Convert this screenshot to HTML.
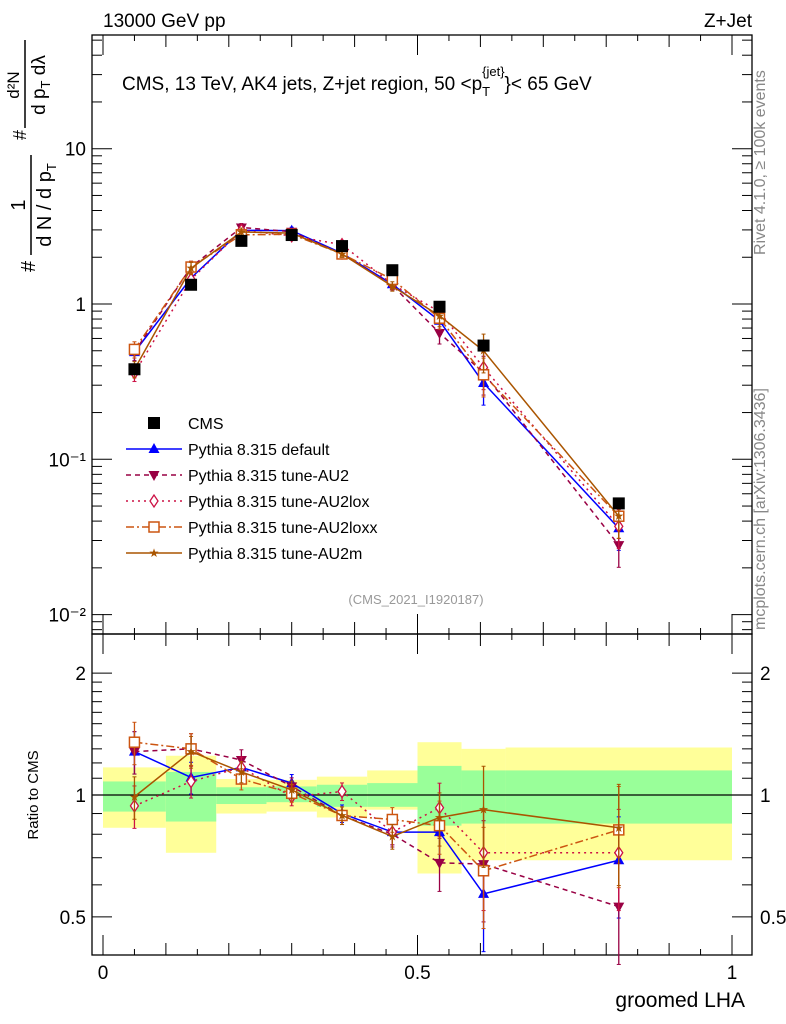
<!DOCTYPE html>
<html><head><meta charset="utf-8"><style>
body{margin:0;background:#fff}
svg{display:block;font-family:"Liberation Sans",sans-serif}
</style></head><body>
<svg id="c" width="786" height="1024" viewBox="0 0 786 1024">
<text x="103" y="27" font-size="19">13000 GeV pp</text>
<text x="752" y="27" font-size="19" text-anchor="end">Z+Jet</text>
<text x="122" y="90" font-size="19">CMS, 13 TeV, AK4 jets, Z+jet region, 50 &lt;p<tspan font-size="13" dy="6">T</tspan><tspan font-size="13" dx="-8" dy="-20">{jet}</tspan><tspan dy="14">}&lt; 65 GeV</tspan></text>
<text transform="translate(765,255) rotate(-90)" font-size="16" fill="#888">Rivet 4.1.0, ≥ 100k events</text>
<text transform="translate(765,630) rotate(-90)" font-size="16" fill="#888">mcplots.cern.ch [arXiv:1306.3436]</text>
<text x="416" y="604" font-size="13" fill="#999" text-anchor="middle">(CMS_2021_I1920187)</text>
<g transform="rotate(-90)" font-size="20">
 <text x="-272" y="35">#</text>
 <text x="-205" y="25" text-anchor="middle">1</text>
 <line x1="-255" x2="-155" y1="31" y2="31" stroke="#000" stroke-width="1.5"/>
 <text x="-205" y="51" text-anchor="middle">d N / d p<tspan font-size="13" dy="5">T</tspan></text>
 <text x="-140" y="26" font-size="18">#</text>
 <text x="-85" y="19" text-anchor="middle" font-size="17">d²N</text>
 <line x1="-128" x2="-40" y1="25" y2="25" stroke="#000" stroke-width="1.5"/>
 <text x="-85" y="45" text-anchor="middle" font-size="19">d p<tspan font-size="13" dy="5">T</tspan><tspan dy="-5"> dλ</tspan></text>
</g>
<text transform="translate(38,795) rotate(-90)" font-size="15" text-anchor="middle">Ratio to CMS</text>
<text x="745" y="1007" font-size="21" text-anchor="end">groomed LHA</text>
<g id="g"></g>
</svg>
<script>
const xVals=[0.05,0.14,0.22,0.30,0.38,0.46,0.535,0.605,0.82];
const binEdges=[0,0.1,0.18,0.26,0.34,0.42,0.5,0.57,0.64,1.0];
const cmsVals=[0.38,1.33,2.55,2.78,2.36,1.65,0.96,0.54,0.052];
const defaultVals=[0.49,1.47,2.98,2.97,2.12,1.34,0.78,0.31,0.036];
const au2Vals=[0.49,1.73,3.11,2.92,2.10,1.32,0.65,0.36,0.028];
const au2loxVals=[0.36,1.44,2.98,2.75,2.41,1.34,0.89,0.39,0.037];
const au2loxxVals=[0.51,1.73,2.79,2.81,2.10,1.44,0.81,0.35,0.043];
const au2mVals=[0.38,1.70,2.91,2.86,2.10,1.30,0.84,0.50,0.043];
const defaultRatio=[1.28,1.105,1.17,1.07,0.90,0.81,0.81,0.57,0.69];
const au2Ratio=[1.28,1.30,1.22,1.05,0.89,0.80,0.68,0.675,0.53];
const au2loxRatio=[0.94,1.08,1.17,0.99,1.02,0.81,0.93,0.72,0.72];
const au2loxxRatio=[1.35,1.30,1.095,1.01,0.89,0.87,0.84,0.65,0.82];
const au2mRatio=[0.99,1.28,1.14,1.03,0.89,0.79,0.88,0.92,0.83];
const relErr=[0.12,0.09,0.06,0.05,0.05,0.07,0.15,0.28,0.28];
const yellowHi=[1.17,1.25,1.095,1.09,1.11,1.15,1.35,1.30,1.31];
const yellowLo=[0.83,0.72,0.90,0.91,0.88,0.92,0.64,0.69,0.69];
const greenHi=[1.08,1.14,1.045,1.05,1.06,1.07,1.18,1.15,1.15];
const greenLo=[0.91,0.86,0.95,0.96,0.935,0.935,0.84,0.85,0.85];
const xTicks=[0,0.5,1];
const xTickLabels=["0","0.5","1"];
const mainTicks=[0.01,0.1,1,10];
const mainTickLabels=["10⁻²","10⁻¹","1","10"];
const ratioTicks=[0.5,1,2];
const ratioTickLabels=["0.5","1","2"];

const NS="http://www.w3.org/2000/svg";
const G=document.getElementById('g');
const L=92,R=752,T=35,MB=634,RB=955;
const X=v=>103+v*629;
const Y=v=>304-Math.log10(v)*155.3;
const YR=v=>795-Math.log10(v)*405;
function el(t,a,p){const e=document.createElementNS(NS,t);for(const k in a)e.setAttribute(k,a[k]);(p||G).appendChild(e);return e;}

for(let i=0;i<xVals.length;i++){
  const r1=el('rect',{x:X(binEdges[i]),y:YR(yellowHi[i]),width:X(binEdges[i+1])-X(binEdges[i]),height:YR(yellowLo[i])-YR(yellowHi[i]),fill:'#ffff99'});
  
  
  const r2=el('rect',{x:X(binEdges[i]),y:YR(greenHi[i]),width:X(binEdges[i+1])-X(binEdges[i]),height:YR(greenLo[i])-YR(greenHi[i]),fill:'#99ff99'});
  
  
}
el('line',{x1:L,x2:R,y1:YR(1),y2:YR(1),stroke:'#000','stroke-width':1.3});

const f1=el('rect',{x:L,y:T,width:R-L,height:MB-T,fill:'none',stroke:'#000','stroke-width':1.3});


const f2=el('rect',{x:L,y:MB,width:R-L,height:RB-MB,fill:'none',stroke:'#000','stroke-width':1.3});



for(let d=-3;d<=1;d++){for(let m=1;m<10;m++){const v=m*Math.pow(10,d);const y=Y(v);if(y<T||y>MB)continue;const len=m==1?20:10;
 el('line',{x1:L,x2:L+len,y1:y,y2:y,stroke:'#000'});el('line',{x1:R,x2:R-len,y1:y,y2:y,stroke:'#000'});}}
mainTicks.forEach((v,i)=>{const t=el('text',{x:L-6,y:Y(v)+7,'font-size':19,'text-anchor':'end'});t.textContent=mainTickLabels[i];
 
 });
for(let v=0.4;v<=2.5;v+=(v<1?0.1:(v<2?0.1:0.5))){const y=YR(v);if(y<MB||y>RB)continue;const maj=ratioTicks.some(t=>Math.abs(t-v)<1e-6);const len=maj?20:10;
 el('line',{x1:L,x2:L+len,y1:y,y2:y,stroke:'#000'});el('line',{x1:R,x2:R-len,y1:y,y2:y,stroke:'#000'});}
ratioTicks.forEach((v,i)=>{[[L-6,'end'],[R+8,'start']].forEach(([x,a])=>{const t=el('text',{x:x,y:YR(v)+7,'font-size':19,'text-anchor':a});t.textContent=ratioTickLabels[i];
 
 });});
for(let k=0;k<=20;k++){const v=k*0.05;const x=X(v);const len=k%10==0?20:(k%2==0?12:6);
 el('line',{x1:x,x2:x,y1:RB,y2:RB-len,stroke:'#000'});el('line',{x1:x,x2:x,y1:MB,y2:MB+len,stroke:'#000'});
 el('line',{x1:x,x2:x,y1:MB,y2:MB-len,stroke:'#000'});el('line',{x1:x,x2:x,y1:T,y2:T+len,stroke:'#000'});}
xTicks.forEach((v,i)=>{const t=el('text',{x:X(v),y:979,'font-size':19,'text-anchor':'middle'});t.textContent=xTickLabels[i];
 
 });

function marker(kind,x,y,c,p){
 if(kind=='sq')return el('rect',{x:x-6,y:y-6,width:12,height:12,fill:'#000'},p);
 if(kind=='tri')return el('polygon',{points:`${x},${y-6} ${x-5.5},${y+4} ${x+5.5},${y+4}`,fill:c},p);
 if(kind=='dtri')return el('polygon',{points:`${x},${y+6} ${x-5.5},${y-4} ${x+5.5},${y-4}`,fill:c},p);
 if(kind=='dia')return el('polygon',{points:`${x},${y-6} ${x-4},${y} ${x},${y+6} ${x+4},${y}`,fill:'#fff',stroke:c,'stroke-width':1.3},p);
 if(kind=='osq')return el('rect',{x:x-5,y:y-5,width:10,height:10,fill:'#fff',stroke:c,'stroke-width':1.5},p);
 if(kind=='star')return el('text',{x:x,y:y+4,'font-size':12,'text-anchor':'middle',fill:c},p);
}
const series=[
 {n:'pythia-default',main:defaultVals,ratio:defaultRatio,c:'#0000ff',d:'',m:'tri',label:'Pythia 8.315 default'},
 {n:'pythia-au2',main:au2Vals,ratio:au2Ratio,c:'#990044',d:'5,4',m:'dtri',label:'Pythia 8.315 tune-AU2'},
 {n:'pythia-au2lox',main:au2loxVals,ratio:au2loxRatio,c:'#cc1144',d:'2,4',m:'dia',label:'Pythia 8.315 tune-AU2lox'},
 {n:'pythia-au2loxx',main:au2loxxVals,ratio:au2loxxRatio,c:'#cc5511',d:'8,3,2,3',m:'osq',label:'Pythia 8.315 tune-AU2loxx'},
 {n:'pythia-au2m',main:au2mVals,ratio:au2mRatio,c:'#aa5500',d:'',m:'star',label:'Pythia 8.315 tune-AU2m'}];
series.forEach(s=>{
 [[s.main,Y],[s.ratio,YR]].forEach(([vals,YF],pi)=>{
  const g=el('g',{});
  
  
  el('polyline',{points:vals.map((v,i)=>X(xVals[i])+','+YF(v)).join(' '),fill:'none',stroke:s.c,'stroke-width':1.5,'stroke-dasharray':s.d},g);
  vals.forEach((v,i)=>{const x=X(xVals[i]);const y1=YF(v*(1+relErr[i])),y2=YF(Math.max(v*(1-relErr[i]),0.01));
   el('line',{x1:x,x2:x,y1:y1,y2:y2,stroke:s.c,'stroke-width':1.3},g);
   el('line',{x1:x-2,x2:x+2,y1:y1,y2:y1,stroke:s.c},g);el('line',{x1:x-2,x2:x+2,y1:y2,y2:y2,stroke:s.c},g);
   const mk=marker(s.m,x,YF(v),s.c,g);if(s.m=='star')mk.textContent='★';
   
   });
 });
});
cmsVals.forEach((v,i)=>{const m=marker('sq',X(xVals[i]),Y(v),'#000');
 
 });

const lg=el('g',{});


marker('sq',154,423,'#000',lg);
const t0=el('text',{x:188,y:429,'font-size':16},lg);t0.textContent='CMS';
series.forEach((s,i)=>{const y=449+i*26;
 el('line',{x1:126,x2:182,y1:y,y2:y,stroke:s.c,'stroke-width':1.5,'stroke-dasharray':s.d},lg);
 const mk=marker(s.m,154,y,s.c,lg);if(s.m=='star')mk.textContent='★';
 const t=el('text',{x:188,y:y+6,'font-size':16},lg);t.textContent=s.label;
 
 });
</script>
</body></html>
